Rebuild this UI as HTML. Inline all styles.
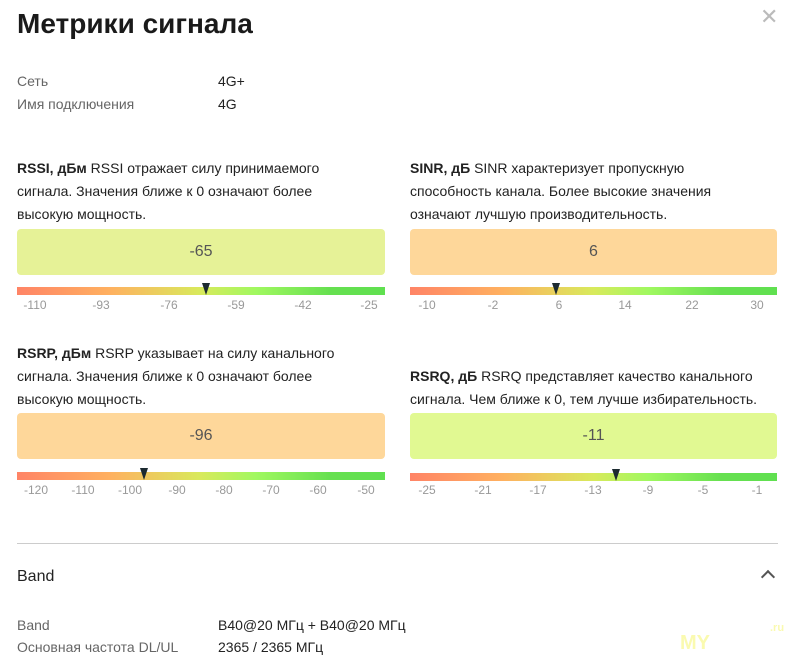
<!DOCTYPE html>
<html><head><meta charset="utf-8"><style>
body{margin:0;width:800px;height:659px;background:#fff;font-family:"Liberation Sans",sans-serif;color:#222;position:relative;overflow:hidden}
.a{position:absolute}
h1{position:absolute;left:17px;top:8px;margin:0;font-size:28px;font-weight:bold;color:#1a1a1a}
.k{font-size:14px;color:#666}
.v{font-size:14px;color:#222}
.d{font-size:14px;line-height:23px;color:#222;white-space:nowrap}
.box{position:absolute;height:46px;border-radius:4px;font-size:16px;color:#555;text-align:center;line-height:46px}
.bar{position:absolute;height:8px;background:linear-gradient(90deg,#ff8466 0%,#ffb060 25%,#d8ea5c 50%,#a0f860 65%,#66e050 85%,#60e050 100%)}
.t{position:absolute;font-size:12px;color:#999;transform:translateX(-50%)}
.m{position:absolute;width:0;height:0;border-left:4px solid transparent;border-right:4px solid transparent;border-top:12px solid #1c2a30;transform:translateX(-50%)}
</style></head><body>
<h1>Метрики сигнала</h1>
<div class="a" style="left:760px;top:4px;font-size:22px;color:#bbb">✕</div>
<div class="a k" style="left:17px;top:73px">Сеть</div><div class="a v" style="left:218px;top:73px">4G+</div>
<div class="a k" style="left:17px;top:96px">Имя подключения</div><div class="a v" style="left:218px;top:96px">4G</div>

<div class="a d" style="left:17px;top:157px"><b>RSSI, дБм</b> RSSI отражает силу принимаемого<br>сигнала. Значения ближе к 0 означают более<br>высокую мощность.</div>
<div class="box" style="left:17px;top:229px;width:368px;background:#e6f297">-65</div>
<div class="bar" style="left:17px;top:287px;width:368px"></div>
<div class="m" style="left:206px;top:283px"></div>
<div class="t" style="left:35px;top:298px">-110</div><div class="t" style="left:101px;top:298px">-93</div><div class="t" style="left:169px;top:298px">-76</div><div class="t" style="left:236px;top:298px">-59</div><div class="t" style="left:303px;top:298px">-42</div><div class="t" style="left:369px;top:298px">-25</div>

<div class="a d" style="left:410px;top:157px"><b>SINR, дБ</b> SINR характеризует пропускную<br>способность канала. Более высокие значения<br>означают лучшую производительность.</div>
<div class="box" style="left:410px;top:229px;width:367px;background:#fed79a">6</div>
<div class="bar" style="left:410px;top:287px;width:367px"></div>
<div class="m" style="left:556px;top:283px"></div>
<div class="t" style="left:427px;top:298px">-10</div><div class="t" style="left:493px;top:298px">-2</div><div class="t" style="left:559px;top:298px">6</div><div class="t" style="left:625px;top:298px">14</div><div class="t" style="left:692px;top:298px">22</div><div class="t" style="left:757px;top:298px">30</div>

<div class="a d" style="left:17px;top:342px"><b>RSRP, дБм</b> RSRP указывает на силу канального<br>сигнала. Значения ближе к 0 означают более<br>высокую мощность.</div>
<div class="box" style="left:17px;top:413px;width:368px;background:#fed79a">-96</div>
<div class="bar" style="left:17px;top:472px;width:368px"></div>
<div class="m" style="left:144px;top:468px"></div>
<div class="t" style="left:36px;top:483px">-120</div><div class="t" style="left:83px;top:483px">-110</div><div class="t" style="left:130px;top:483px">-100</div><div class="t" style="left:177px;top:483px">-90</div><div class="t" style="left:224px;top:483px">-80</div><div class="t" style="left:271px;top:483px">-70</div><div class="t" style="left:318px;top:483px">-60</div><div class="t" style="left:366px;top:483px">-50</div>

<div class="a d" style="left:410px;top:365px"><b>RSRQ, дБ</b> RSRQ представляет качество канального<br>сигнала. Чем ближе к 0, тем лучше избирательность.</div>
<div class="box" style="left:410px;top:413px;width:367px;background:#e1f992">-11</div>
<div class="bar" style="left:410px;top:473px;width:367px"></div>
<div class="m" style="left:616px;top:469px"></div>
<div class="t" style="left:427px;top:483px">-25</div><div class="t" style="left:483px;top:483px">-21</div><div class="t" style="left:538px;top:483px">-17</div><div class="t" style="left:593px;top:483px">-13</div><div class="t" style="left:648px;top:483px">-9</div><div class="t" style="left:703px;top:483px">-5</div><div class="t" style="left:757px;top:483px">-1</div>

<div class="a" style="left:17px;top:543px;width:761px;height:1px;background:#ccc"></div>
<div class="a" style="left:17px;top:568px;font-size:16px;color:#222">Band</div>
<div class="a" style="left:763px;top:572px;width:8px;height:8px;border-left:2.5px solid #555;border-top:2.5px solid #555;transform:rotate(45deg)"></div>
<div class="a k" style="left:17px;top:617px">Band</div><div class="a v" style="left:218px;top:617px">B40@20 МГц + B40@20 МГц</div>
<div class="a k" style="left:17px;top:639px">Основная частота DL/UL</div><div class="a v" style="left:218px;top:639px">2365 / 2365 МГц</div>
<div class="a" style="left:680px;top:632px;font-size:20px;font-weight:bold;color:#fafab0">MY</div>
<div class="a" style="left:770px;top:622px;font-size:11px;font-weight:bold;color:#fafab0">.ru</div>
</body></html>
